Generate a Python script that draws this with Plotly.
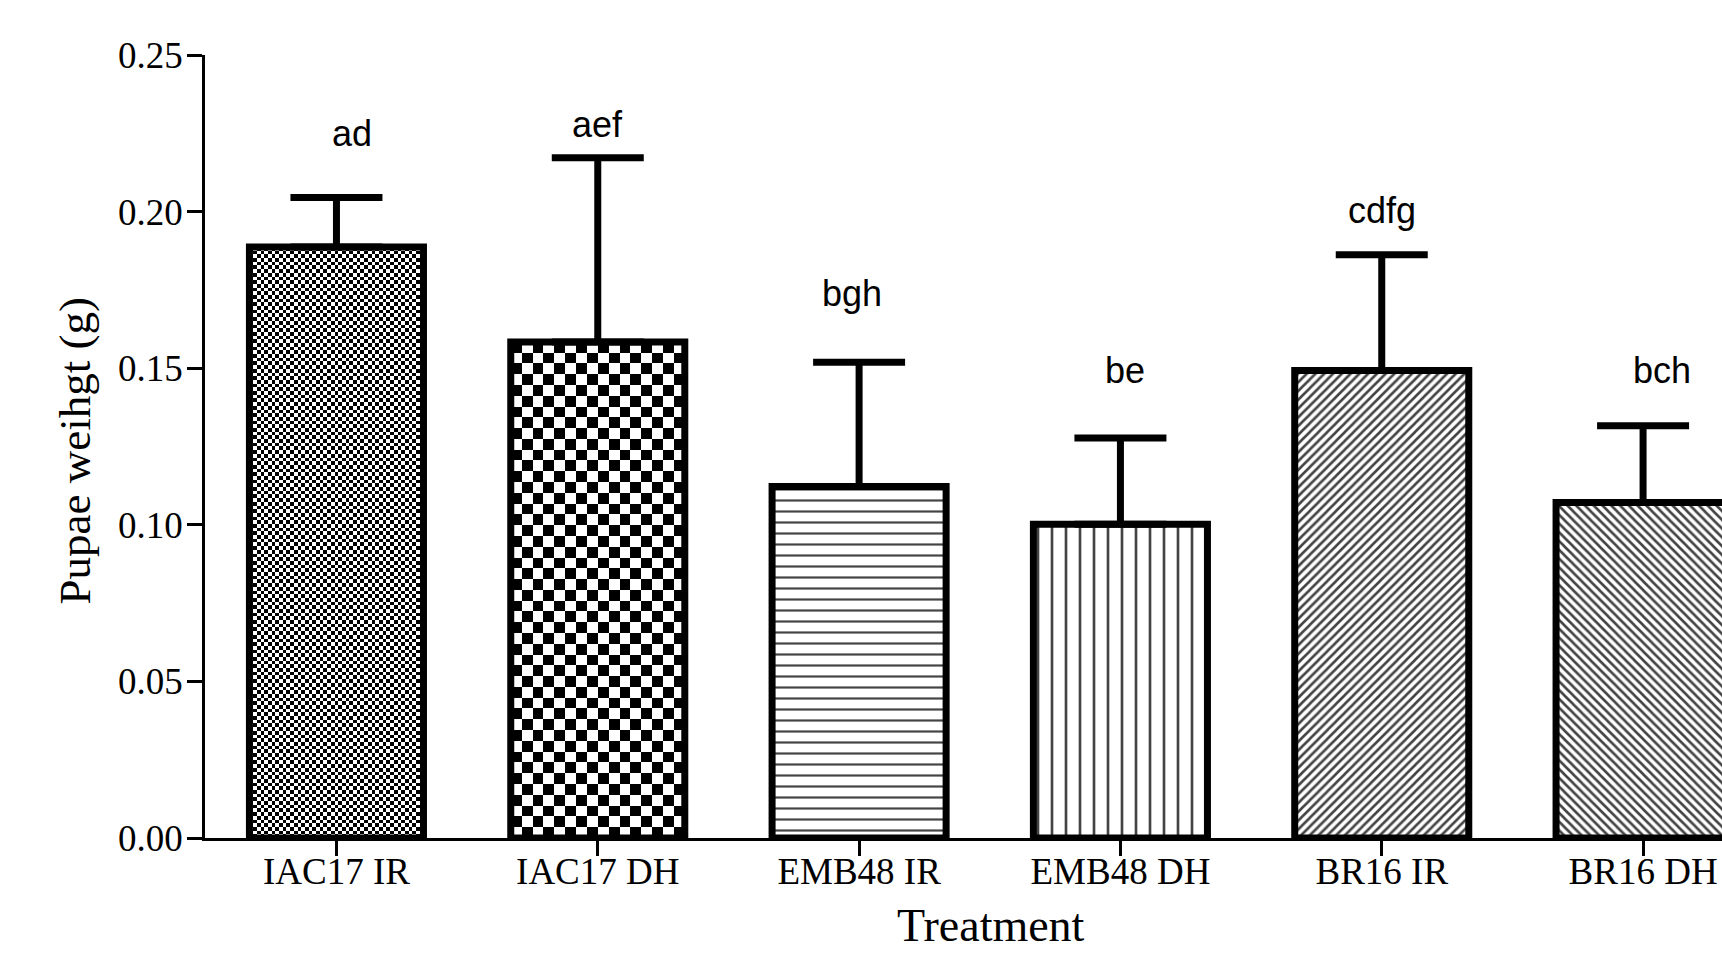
import numpy as np
import plotly.graph_objects as go

# ---------------- data ----------------
treatments = ["IAC17 IR", "IAC17 DH", "EMB48 IR", "EMB48 DH", "BR16 IR", "BR16 DH"]
mean_weight = [0.1887, 0.1584, 0.1122, 0.1002, 0.1493, 0.1071]
sem_weight = [0.0158, 0.0588, 0.0397, 0.0275, 0.0369, 0.0245]
letters = ["ad", "aef", "bgh", "be", "cdfg", "bch"]
letter_y = [0.2206, 0.2236, 0.1695, 0.1451, 0.1961, 0.1451]
y_ticks = [0.00, 0.05, 0.10, 0.15, 0.20, 0.25]

# ---------------- layout / style ----------------
W, H = 1722, 954
ML, MR, MT, MB = 205, 0, 55, 116
x_range = [-0.503, 5.302]
y_range = [0.0, 0.25]
bar_w = 0.666
letter_dx = [0.059, 0.0, -0.027, 0.019, 0.0, 0.073]

px_x = (W - ML - MR) / (x_range[1] - x_range[0])
px_y = (H - MT - MB) / (y_range[1] - y_range[0])

# fill styles per bar
checker_px = {0: 3.7, 1: 10.8}          # checkerboard square size (px)
pat_shape = ["", "", "-", "|", "/", "\\"]
pat_size = [8, 8, 11, 14, 6.2, 6.2]
pat_solid = [0.2, 0.2, 0.2, 0.19, 0.42, 0.42]
bar_fill = ["rgba(0,0,0,0)", "rgba(0,0,0,0)", "white", "white", "white", "white"]

serif = "Liberation Serif"
sans = "Liberation Sans"

fig = go.Figure()
xpos = list(range(len(treatments)))

# checkerboard fills (drawn under the bars) built from the bar values
for i, sq in checker_px.items():
    v = mean_weight[i]
    ncol = max(1, int(round(bar_w * px_x / sq)))
    nrow = max(1, int(round(v * px_y / sq)))
    xe = np.linspace(xpos[i] - bar_w / 2, xpos[i] + bar_w / 2, ncol + 1)
    ye = np.linspace(0, v, nrow + 1)
    z = np.add.outer(np.arange(nrow), np.arange(ncol)) % 2
    fig.add_trace(go.Heatmap(
        x=xe, y=ye, z=z, zmin=0, zmax=1,
        colorscale=[[0, "white"], [1, "black"]],
        showscale=False, hoverinfo="skip", zsmooth=False,
    ))

fig.add_trace(go.Bar(
    x=xpos, y=mean_weight, width=bar_w,
    marker=dict(
        color=bar_fill,
        line=dict(color="black", width=7),
        pattern=dict(shape=pat_shape, size=pat_size, solidity=pat_solid,
                     fgcolor="black", fgopacity=1, fillmode="overlay"),
    ),
    error_y=dict(type="data", symmetric=False, array=sem_weight,
                 arrayminus=[0] * len(sem_weight),
                 thickness=7, width=46, color="black"),
    hoverinfo="skip", showlegend=False,
))

for i, (lab, ly) in enumerate(zip(letters, letter_y)):
    fig.add_annotation(
        x=xpos[i] + letter_dx[i], y=ly, xref="x", yref="y",
        text=lab, showarrow=False, xanchor="center", yanchor="bottom",
        yshift=-9, font=dict(family=sans, size=36, color="black"),
    )

# axis titles
fig.add_annotation(
    x=(991 - ML) / (W - ML - MR), y=(H - MB - 898) / (H - MT - MB),
    xref="paper", yref="paper", text="Treatment", showarrow=False,
    xanchor="center", yanchor="top",
    font=dict(family=serif, size=46, color="black"),
)
fig.add_annotation(
    x=(74 - ML) / (W - ML - MR), y=(H - MB - 451.5) / (H - MT - MB),
    xref="paper", yref="paper", text="Pupae weihgt (g)", showarrow=False,
    textangle=-90, xanchor="center", yanchor="middle",
    font=dict(family=serif, size=45, color="black"),
)

fig.update_layout(
    width=W, height=H,
    margin=dict(l=ML, r=MR, t=MT, b=MB, pad=0),
    paper_bgcolor="white", plot_bgcolor="white",
    showlegend=False,
    xaxis=dict(
        range=x_range, tickmode="array", tickvals=xpos, ticktext=treatments,
        showline=True, linecolor="black", linewidth=2.5,
        ticks="outside", ticklen=15, tickwidth=2.5, tickcolor="black",
        showgrid=False, zeroline=False, ticklabelstandoff=-16,
        tickfont=dict(family=serif, size=37, color="black"),
    ),
    yaxis=dict(
        range=y_range, tickmode="array", tickvals=y_ticks, tickformat=".2f",
        showline=True, linecolor="black", linewidth=2.5,
        ticks="outside", ticklen=15, tickwidth=2.5, tickcolor="black",
        showgrid=False, zeroline=False, ticklabelstandoff=-3,
        tickfont=dict(family=serif, size=37, color="black"),
    ),
)

fig.write_html("out.html", config={"displayModeBar": False},
               post_script="document.body.style.margin='0';document.body.style.overflow='hidden';")
